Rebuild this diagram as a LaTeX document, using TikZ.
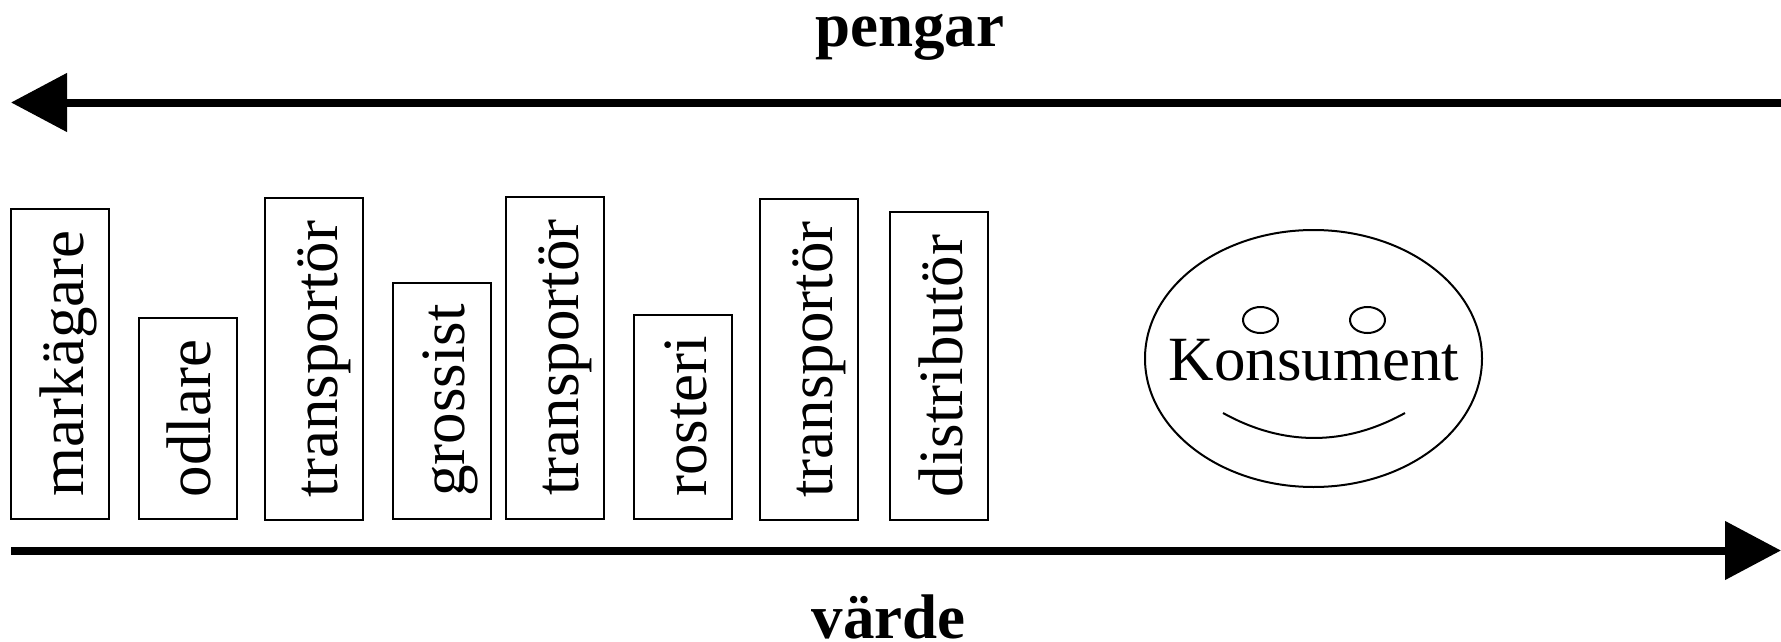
\documentclass[tikz,border=0pt]{standalone}
\usepackage{fontspec}
\setmainfont{Liberation Serif}
\usetikzlibrary{arrows.meta}
\begin{document}
\begin{tikzpicture}[x=1pt,y=-1pt,
  bigfont/.style={font=\fontsize{63pt}{75pt}\selectfont},
  actor/.style={draw, line width=2pt, rectangle, rotate=90, inner sep=0pt,
    text height=72pt, text depth=26pt, bigfont},
  flow/.style={line width=8pt, -{Triangle[length=56pt,width=57pt]}},
  caption/.style={inner sep=0pt, anchor=base, font=\fontsize{63pt}{75pt}\selectfont\bfseries},
  plain/.style={inner sep=0pt, anchor=base, bigfont},
  face/.style={line width=2pt},
]
\useasboundingbox (0,0) rectangle (1781,642);

% arrows
\coordinate (pR) at (1781,102.5);
\coordinate (pL) at (11,102.5);
\coordinate (vL) at (11,550.5);
\coordinate (vR) at (1781,550.5);
\draw[flow] (pR) -- (pL);
\draw[flow] (vL) -- (vR);

\node[caption] (pengar) at (909.5,47) {pengar};
\node[caption] (varde) at (888.5,638) {värde};

% actors
\node[actor, minimum width=310pt] (a1) at (60,363.5)   {markägare};
\node[actor, minimum width=201pt] (a2) at (187.5,418.5) {odlare};
\node[actor, minimum width=322pt] (a3) at (314,359)   {transportör};
\node[actor, minimum width=236pt] (a4) at (441.5,400.5) {grossist};
\node[actor, minimum width=322pt] (a5) at (555,357.5)   {transportör};
\node[actor, minimum width=204pt] (a6) at (683,416.5)   {rosteri};
\node[actor, minimum width=321pt] (a7) at (809,359.5)   {transportör};
\node[actor, minimum width=308pt] (a8) at (939,366)     {distributör};

% consumer face
\draw[face] (1313.5,358.5) ellipse [x radius=168.5, y radius=128.5];
\draw[face] (1260.5,320) ellipse [x radius=17.5, y radius=13];
\draw[face] (1367.5,320) ellipse [x radius=17.5, y radius=13];
\coordinate (sm1) at (1223,413);
\coordinate (sm2) at (1405,413);
\draw[face] (sm1) .. controls (1283,446.3) and (1345,446.3) .. (sm2);
\node[plain] (kons) at (1314,380) {Konsument};
\end{tikzpicture}
\end{document}
